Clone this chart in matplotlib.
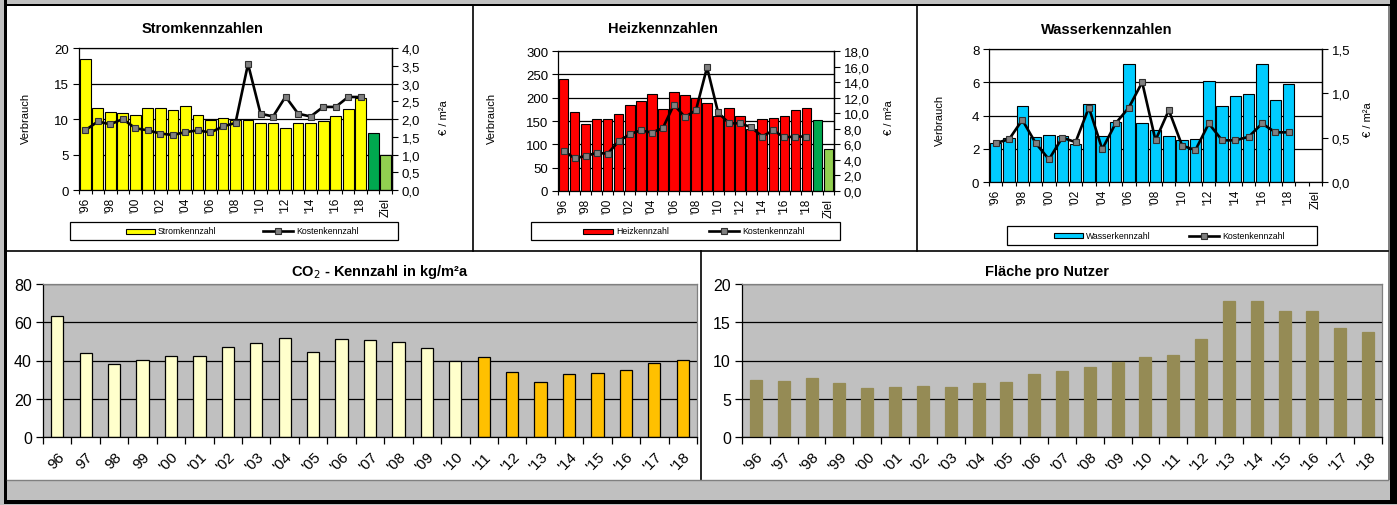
import numpy as np
import matplotlib
matplotlib.use("Agg")
import matplotlib.pyplot as plt
from matplotlib.patches import Rectangle
from matplotlib.lines import Line2D
from matplotlib.ticker import FuncFormatter, FixedLocator
from matplotlib import font_manager as fm

# ---------------- data ----------------
years = ["96", "97", "98", "99", "00", "01", "02", "03", "04", "05", "06", "07",
         "08", "09", "10", "11", "12", "13", "14", "15", "16", "17", "18"]

strom = [18.4, 11.5, 11.0, 10.9, 10.6, 11.5, 11.6, 11.2, 11.9, 10.6, 9.8, 10.2,
         9.9, 9.8, 9.4, 9.4, 8.7, 9.4, 9.4, 9.7, 10.4, 11.4, 13.0]
strom_ref = 8.0
strom_ziel = 5.0
strom_cost = [1.68, 1.93, 1.85, 2.00, 1.74, 1.68, 1.59, 1.55, 1.63, 1.68, 1.62, 1.79,
              1.89, 3.55, 2.15, 2.07, 2.63, 2.15, 2.07, 2.34, 2.34, 2.62, 2.62]

heiz = [240, 170, 144, 155, 155, 164, 185, 193, 208, 175, 212, 206,
        200, 189, 160, 178, 160, 132, 155, 156, 161, 173, 178]
heiz_ref = 153
heiz_ziel = 91
heiz_cost = [5.2, 4.2, 4.5, 4.9, 4.8, 6.4, 7.3, 7.8, 7.5, 8.1, 11.1, 9.5,
             10.4, 15.9, 10.1, 8.7, 8.7, 8.2, 7.0, 7.8, 6.9, 7.0, 7.0]

wasser = [2.36, 2.66, 4.56, 2.72, 2.80, 2.76, 2.30, 4.70, 2.76, 3.60, 7.12, 3.56,
          3.10, 2.76, 2.50, 2.60, 6.10, 4.56, 5.16, 5.32, 7.12, 4.92, 5.90]
wasser_cost = [0.44, 0.48, 0.70, 0.44, 0.255, 0.50, 0.45, 0.84, 0.37, 0.66, 0.84, 1.125,
               0.47, 0.81, 0.41, 0.36, 0.66, 0.47, 0.47, 0.51, 0.66, 0.56, 0.56]

co2 = [63.5, 44, 38, 40.5, 42.5, 42.5, 47, 49, 52, 44.5, 51.5, 50.5,
       49.5, 46.5, 40, 42, 34, 29, 33, 33.5, 35, 38.5, 40.5]
flaeche = [7.4, 7.3, 7.7, 7.0, 6.4, 6.6, 6.7, 6.6, 7.1, 7.2, 8.2, 8.6,
           9.1, 9.8, 10.5, 10.7, 12.8, 17.8, 17.8, 16.5, 16.5, 14.3, 13.7]

top_labels = [("'" + y) if i % 2 == 0 else "" for i, y in enumerate(years)] + ["", "Ziel"]
co2_labels = [y if y.startswith("9") else "'" + y for y in years]
fl_labels = ["'" + y for y in years]

# ---------------- fonts ----------------
names = {f.name for f in fm.fontManager.ttflist}
NARROW = "Liberation Sans Narrow" if "Liberation Sans Narrow" in names else "Liberation Sans"
ARIAL = "Liberation Sans"
plt.rcParams["font.family"] = [ARIAL, "DejaVu Sans"]

W, H = 1397, 506
fig = plt.figure(figsize=(W / 100, H / 100), dpi=100)
fig.patch.set_facecolor("#c0c0c0")


def ax_px(left, top, right, bottom):
    return fig.add_axes([left / W, 1 - bottom / H, (right - left) / W, (bottom - top) / H])


bg = fig.add_axes([0, 0, 1, 1])
bg.set_xlim(0, W)
bg.set_ylim(H, 0)
bg.axis("off")
bg.set_zorder(0)

# panels and frame
bg.add_patch(Rectangle((7, 7), 1381, 474, fc="white", ec="none"))
bg.add_patch(Rectangle((4, 0), 3, 504, fc="black", ec="none"))
bg.add_patch(Rectangle((4, 501), 1393, 4, fc="black", ec="none"))
bg.add_patch(Rectangle((1390, 0), 7, 505, fc="black", ec="none"))
bg.add_patch(Rectangle((7, 5), 1383, 2, fc="black", ec="none"))
bg.add_patch(Rectangle((1388, 7), 2, 474, fc="#808080", ec="none"))
bg.plot([7, 1388], [252, 252], color="black", lw=1.2)
bg.plot([473, 473], [7, 252], color="black", lw=1.2)
bg.plot([917, 917], [7, 252], color="black", lw=1.2)
bg.plot([701, 701], [252, 481], color="black", lw=1.2)
bg.plot([7, 1388], [481, 481], color="#808080", lw=1.0)

dec = FuncFormatter(lambda v, p: f"{v:.1f}".replace(".", ","))


def top_chart(box, vals, ref, ziel, cost, color, ylim, ystep, y2lim, y2step,
              title, title_xy, ylab_x, y2lab_x, lab_y, legend_box, leg_patch, leg_line, name):
    ax = ax_px(*box)
    n = len(vals) + 2
    x = np.arange(n)
    heights = list(vals) + [ref if ref is not None else np.nan, ziel if ziel is not None else np.nan]
    colors = [color] * len(vals) + ["#00a84f", "#92d050"]
    ax.set_axisbelow(True)
    ax.bar(x, heights, width=0.86, color=colors, edgecolor="black", linewidth=0.8, zorder=2)
    ax.set_xlim(-0.5, n - 0.5)
    ax.set_ylim(*ylim)
    ax.yaxis.set_major_locator(FixedLocator(np.arange(ylim[0], ylim[1] + ystep / 2, ystep)))
    ax.grid(axis="y", color="black", lw=0.9)
    ax.set_xticks(x)
    ax.set_xticklabels(top_labels, rotation=90, fontsize=8.5, family=NARROW)
    ax.set_xticks(np.arange(-0.5, n, 1), minor=True)
    ax.tick_params(axis="x", which="major", length=0, pad=5)
    ax.tick_params(axis="x", which="minor", length=3, width=0.8, direction="out")
    ax.tick_params(axis="y", length=4, width=0.8, labelsize=9.5, pad=3)
    for lab in ax.get_yticklabels():
        lab.set_family(NARROW)
    for s in ax.spines.values():
        s.set_color("black")
        s.set_linewidth(0.9)
    ax2 = ax.twinx()
    ax2.set_ylim(*y2lim)
    ax2.yaxis.set_major_locator(FixedLocator(np.arange(y2lim[0], y2lim[1] + y2step / 2, y2step)))
    ax2.yaxis.set_major_formatter(dec)
    ax2.tick_params(axis="y", length=4, width=0.8, labelsize=9.5, pad=3)
    for lab in ax2.get_yticklabels():
        lab.set_family(NARROW)
    ax2.plot(np.arange(len(cost)), cost, color="black", lw=1.9, marker="s", ms=4.8,
             mfc="#808080", mec="#303030", mew=0.8, zorder=3)
    for s in ax2.spines.values():
        s.set_visible(False)
    ax2.spines["right"].set_visible(True)
    ax2.spines["right"].set_linewidth(0.9)
    bg.text(title_xy[0], title_xy[1], title, ha="center", va="center",
            fontsize=10.5, fontweight="bold")
    bg.text(ylab_x, lab_y, "Verbrauch", rotation=90, ha="center", va="center",
            fontsize=8, family=NARROW)
    bg.text(y2lab_x, lab_y, "€ / m²a", rotation=90, ha="center", va="center",
            fontsize=8, family=NARROW)
    # legend
    l, t, r, b = legend_box
    bg.add_patch(Rectangle((l, t), r - l, b - t, fc="white", ec="black", lw=0.9))
    cy = (t + b) / 2
    px0, px1 = leg_patch
    bg.add_patch(Rectangle((px0, cy - 2.5), px1 - px0, 5, fc=color, ec="black", lw=0.8))
    bg.text(px1 + 3, cy, name, ha="left", va="center", fontsize=6.3, family=NARROW)
    lx0, lx1 = leg_line
    bg.add_line(Line2D([lx0, lx1], [cy, cy], color="black", lw=1.9))
    bg.add_line(Line2D([(lx0 + lx1) / 2], [cy], marker="s", ms=4.8, mfc="#808080",
                       mec="#303030", mew=0.8))
    bg.text(lx1 + 3, cy, "Kostenkennzahl", ha="left", va="center", fontsize=6.3, family=NARROW)
    return ax


top_chart((79, 49, 392, 191), strom, strom_ref, strom_ziel, strom_cost, "#ffff00",
          (0, 20), 5, (0, 4), 0.5, "Stromkennzahlen", (203, 29), 26, 444, 118,
          (70, 223, 398, 241), (126, 155), (263, 293), "Stromkennzahl")
top_chart((558, 52, 834, 192), heiz, heiz_ref, heiz_ziel, heiz_cost, "#ff0000",
          (0, 300), 50, (0, 18), 2, "Heizkennzahlen", (663, 29), 492, 889, 118,
          (531, 223, 840, 241), (583, 613), (709, 739), "Heizkennzahl")
top_chart((989, 50, 1322, 183), wasser, None, None, wasser_cost, "#00ccff",
          (0, 8), 2, (0, 1.5), 0.5, "Wasserkennzahlen", (1107, 30), 940, 1368, 120,
          (1007, 227, 1317, 246), (1054, 1083), (1189, 1219), "Wasserkennzahl")


def bottom_chart(box, vals, colors, edge, ylim, ystep, labels, title, title_xy):
    ax = ax_px(*box)
    x = np.arange(len(vals))
    ax.set_facecolor("#c0c0c0")
    ax.set_axisbelow(True)
    ax.bar(x, vals, width=0.43, color=colors, edgecolor=edge, linewidth=0.9, zorder=2)
    ax.set_xlim(-0.5, len(vals) - 0.5)
    ax.set_ylim(*ylim)
    ax.yaxis.set_major_locator(FixedLocator(np.arange(ylim[0], ylim[1] + ystep / 2, ystep)))
    ax.grid(axis="y", color="black", lw=0.9)
    ax.set_xticks(x)
    ax.set_xticklabels(labels, rotation=45, ha="right", va="top", fontsize=11)
    ax.set_xticks(np.arange(-0.5, len(vals), 1), minor=True)
    ax.tick_params(axis="x", which="major", length=0, pad=9)
    ax.tick_params(axis="x", which="minor", length=5, width=0.9, direction="out")
    ax.tick_params(axis="y", length=5, width=0.9, labelsize=11.5, pad=3)
    ax.spines["left"].set_color("black")
    ax.spines["bottom"].set_color("black")
    ax.spines["top"].set_color("#808080")
    ax.spines["right"].set_color("#808080")
    for s in ax.spines.values():
        s.set_linewidth(0.9)
    for lab in ax.get_xticklabels():
        lab.set_rotation_mode("anchor")
    bg.text(title_xy[0], title_xy[1], title, ha="center", va="center",
            fontsize=10.5, fontweight="bold")
    return ax


co2_colors = ["#ffffcc" if int(y) >= 90 else "#ffc000" for y in years]
co2_colors = ["#ffffcc" if (y.startswith("9") or int(y) <= 10) else "#ffc000" for y in years]
bottom_chart((43, 285, 697, 438), co2, co2_colors, "black", (0, 80), 20, co2_labels,
             "CO$_2$ - Kennzahl in kg/m²a", (380, 272))
bottom_chart((742, 285, 1382, 438), flaeche, ["#958b55"] * len(flaeche), "#958b55", (0, 20), 5,
             fl_labels, "Fläche pro Nutzer", (1047, 272))

fig.savefig("out.png", dpi=100, facecolor=fig.get_facecolor())
